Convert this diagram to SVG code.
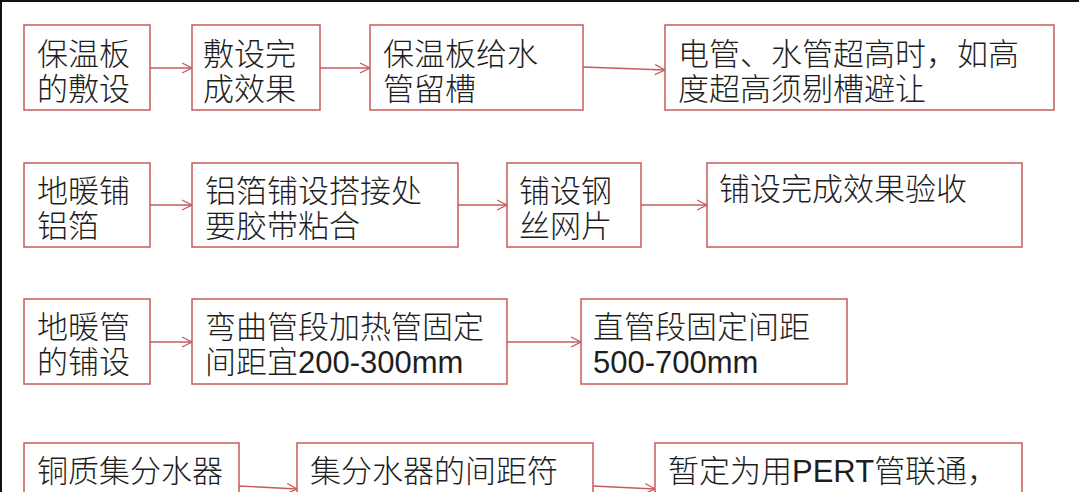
<svg xmlns="http://www.w3.org/2000/svg" width="1079" height="492" viewBox="0 0 1079 492">
  <defs>
    <marker id="arr" markerUnits="userSpaceOnUse" markerWidth="12" markerHeight="12" refX="11" refY="6" orient="auto">
      <path d="M1,1 L11,6 L1,11" fill="none" stroke="#c65b5b" stroke-width="1.3"/>
    </marker>
  </defs>
  <style>
    .box { fill: #ffffff; stroke: #c65b5b; stroke-width: 1.5; }
    .t { font-family: "Liberation Sans", "Noto Sans CJK SC", sans-serif; font-size: 31px; font-weight: 300; fill: #1e1e1e; }
    .lat { font-family: "Liberation Sans", Arial, sans-serif; font-size: 31px; font-weight: 400; }
    .c { fill: none; stroke: #c65b5b; stroke-width: 1.3; marker-end: url(#arr); }
  </style>
  <rect x="0" y="0" width="1079" height="492" fill="#ffffff"/>
  <rect x="0" y="0" width="1079" height="2" fill="#111111"/>
  <rect x="0" y="0" width="2" height="492" fill="#111111"/>

  <g id="connectors">
    <line class="c" x1="150" y1="68" x2="192" y2="68"/>
    <line class="c" x1="320" y1="68" x2="370" y2="68"/>
    <line class="c" x1="583" y1="67" x2="665" y2="70"/>
    <line class="c" x1="150" y1="205" x2="192" y2="205"/>
    <line class="c" x1="458" y1="205" x2="507" y2="205"/>
    <line class="c" x1="641" y1="205" x2="707" y2="205"/>
    <line class="c" x1="150" y1="342" x2="192" y2="342"/>
    <line class="c" x1="507" y1="342" x2="581" y2="342"/>
    <line class="c" x1="239" y1="486" x2="297" y2="489"/>
    <line class="c" x1="593" y1="486" x2="655" y2="489"/>
  </g>

  <g id="n1"><rect class="box" x="24" y="25" width="126" height="85"/>
    <text class="t" x="37" y="64.5">保温板</text><text class="t" x="37" y="99.5">的敷设</text></g>
  <g id="n2"><rect class="box" x="192" y="25" width="128" height="85"/>
    <text class="t" x="203" y="64.5">敷设完</text><text class="t" x="203" y="99.5">成效果</text></g>
  <g id="n3"><rect class="box" x="370" y="25" width="213" height="85"/>
    <text class="t" x="383" y="64.5">保温板给水</text><text class="t" x="383" y="99.5">管留槽</text></g>
  <g id="n4"><rect class="box" x="665" y="25" width="389" height="85"/>
    <text class="t" x="678" y="64.5">电管、水管超高时，如高</text><text class="t" x="678" y="99.5">度超高须剔槽避让</text></g>

  <g id="n5"><rect class="box" x="24" y="163" width="126" height="84"/>
    <text class="t" x="37" y="202">地暖铺</text><text class="t" x="37" y="237">铝箔</text></g>
  <g id="n6"><rect class="box" x="192" y="163" width="266" height="84"/>
    <text class="t" x="205" y="202">铝箔铺设搭接处</text><text class="t" x="205" y="237">要胶带粘合</text></g>
  <g id="n7"><rect class="box" x="507" y="163" width="134" height="84"/>
    <text class="t" x="519" y="202">铺设钢</text><text class="t" x="519" y="237">丝网片</text></g>
  <g id="n8"><rect class="box" x="707" y="163" width="315" height="84"/>
    <text class="t" x="719" y="200">铺设完成效果验收</text></g>

  <g id="n9"><rect class="box" x="24" y="299" width="126" height="85"/>
    <text class="t" x="37" y="338">地暖管</text><text class="t" x="37" y="373">的铺设</text></g>
  <g id="n10"><rect class="box" x="192" y="299" width="315" height="85"/>
    <text class="t" x="205" y="338">弯曲管段加热管固定</text><text class="t" x="205" y="373">间距宜<tspan class="lat">200-300mm</tspan></text></g>
  <g id="n11"><rect class="box" x="581" y="299" width="266" height="85"/>
    <text class="t" x="593" y="338">直管段固定间距</text><text class="t" x="593" y="373"><tspan class="lat">500-700mm</tspan></text></g>

  <g id="n12"><rect class="box" x="24" y="443" width="215" height="70"/>
    <text class="t" x="37" y="482">铜质集分水器</text></g>
  <g id="n13"><rect class="box" x="297" y="443" width="296" height="70"/>
    <text class="t" x="310" y="482">集分水器的间距符</text></g>
  <g id="n14"><rect class="box" x="655" y="443" width="367" height="70"/>
    <text class="t" x="668" y="482">暂定为用<tspan class="lat">PERT</tspan>管联通，</text></g>
</svg>
